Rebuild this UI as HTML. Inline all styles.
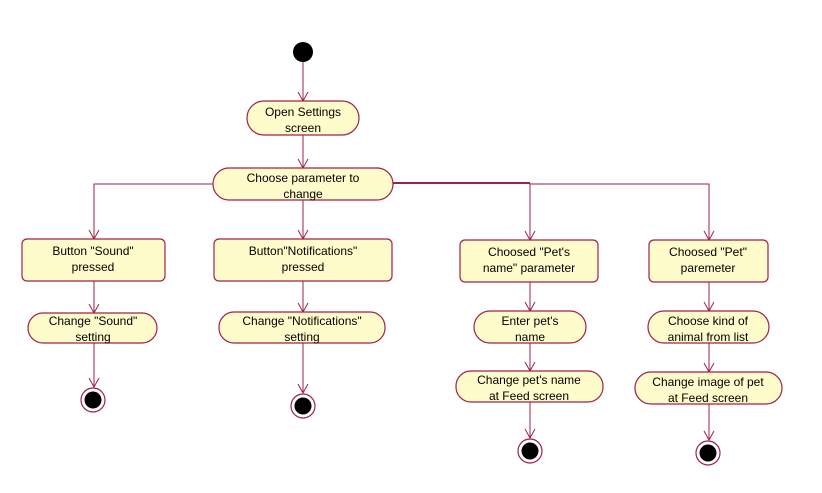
<!DOCTYPE html>
<html><head><style>
html,body{margin:0;padding:0;background:#fff;}
svg text{font-family:"Liberation Sans",Arial,sans-serif;font-size:12px;fill:#000;text-anchor:middle;}
</style></head><body>
<svg width="822" height="488" viewBox="0 0 822 488" xmlns="http://www.w3.org/2000/svg">
<defs>
<marker id="a" markerWidth="12" markerHeight="12" refX="10" refY="6" orient="auto" markerUnits="userSpaceOnUse">
<path d="M1,1 L10,6 L1,11" fill="none" stroke="#a0204a" stroke-width="1"/>
</marker>
</defs>
<g stroke="#a0204a" stroke-width="1" fill="none">
<line x1="303" y1="60" x2="303" y2="101" marker-end="url(#a)"/>
<line x1="303" y1="135" x2="303" y2="168" marker-end="url(#a)"/>
<polyline points="213,184 94,184 94,239" marker-end="url(#a)"/>
<line x1="303" y1="200" x2="303" y2="239" marker-end="url(#a)"/>
<polyline points="393,183 530,183" stroke-width="2"/>
<line x1="530" y1="183" x2="530" y2="240" marker-end="url(#a)"/>
<polyline points="530,184 709,184 709,240" marker-end="url(#a)"/>
<line x1="94" y1="281" x2="94" y2="313" marker-end="url(#a)"/>
<line x1="303" y1="281" x2="303" y2="312" marker-end="url(#a)"/>
<line x1="530" y1="282" x2="530" y2="311" marker-end="url(#a)"/>
<line x1="709" y1="282" x2="709" y2="311" marker-end="url(#a)"/>
<line x1="94" y1="343" x2="94" y2="387" marker-end="url(#a)"/>
<line x1="303" y1="343" x2="303" y2="393" marker-end="url(#a)"/>
<line x1="530" y1="343" x2="530" y2="371" marker-end="url(#a)"/>
<line x1="709" y1="343" x2="709" y2="372" marker-end="url(#a)"/>
<line x1="530" y1="402" x2="530" y2="438" marker-end="url(#a)"/>
<line x1="709" y1="404" x2="709" y2="440" marker-end="url(#a)"/>
</g>
<circle cx="303" cy="52" r="10" fill="#000"/>
<g fill="#fffccc" stroke="#a0204a" stroke-width="1.2">
<rect x="247" y="101" width="112" height="34" rx="17"/>
<rect x="213" y="168" width="180" height="32" rx="16"/>
<rect x="22" y="239" width="143" height="42" rx="5"/>
<rect x="214" y="239" width="178" height="42" rx="5"/>
<rect x="460" y="240" width="138" height="42" rx="5"/>
<rect x="649" y="240" width="119" height="42" rx="5"/>
<rect x="28" y="313" width="129" height="30" rx="15"/>
<rect x="219" y="312" width="166" height="31" rx="15"/>
<rect x="474" y="311" width="112" height="32" rx="16"/>
<rect x="648" y="311" width="121" height="32" rx="16"/>
<rect x="456" y="371" width="147" height="31" rx="15"/>
<rect x="635" y="372" width="147" height="32" rx="16"/>
</g>
<g fill="#fff" stroke="#a0204a" stroke-width="1.2">
<circle cx="93" cy="400" r="12"/><circle cx="303" cy="406" r="12"/>
<circle cx="530" cy="451" r="12"/><circle cx="708" cy="453" r="12"/>
</g>
<g fill="#000">
<circle cx="93" cy="400" r="8.5"/><circle cx="303" cy="406" r="8.5"/>
<circle cx="530" cy="451" r="8.5"/><circle cx="708" cy="453" r="8.5"/>
</g>
<text x="303" y="116">Open Settings</text><text x="303" y="132">screen</text>
<text x="303" y="182">Choose parameter to</text><text x="303" y="198">change</text>
<text x="93" y="255">Button "Sound"</text><text x="93" y="271">pressed</text>
<text x="303" y="255">Button"Notifications"</text><text x="303" y="271">pressed</text>
<text x="529" y="256">Choosed "Pet's</text><text x="529" y="272">name" parameter</text>
<text x="708" y="256">Choosed "Pet"</text><text x="708" y="272">paremeter</text>
<text x="93" y="325">Change "Sound"</text><text x="93" y="341">setting</text>
<text x="302" y="325">Change "Notifications"</text><text x="302" y="341">setting</text>
<text x="530" y="325">Enter pet's</text><text x="530" y="341">name</text>
<text x="708" y="325">Choose kind of</text><text x="708" y="341">animal from list</text>
<text x="529" y="384">Change pet's name</text><text x="529" y="400">at Feed screen</text>
<text x="708" y="386">Change image of pet</text><text x="708" y="402">at Feed screen</text>
</svg>
</body></html>
